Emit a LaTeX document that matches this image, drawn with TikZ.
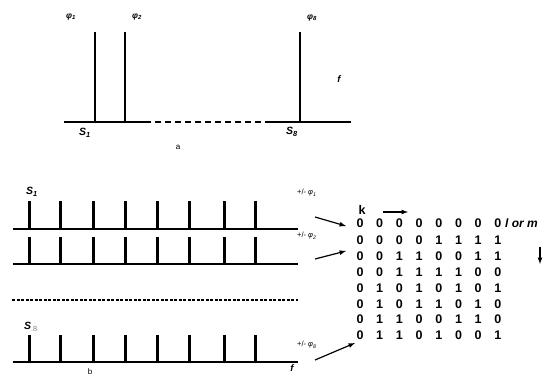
\documentclass[tikz,border=0pt]{standalone}
\usepackage{fontspec}
\setmainfont{Liberation Sans}
\begin{document}
\begin{tikzpicture}[x=1pt,y=-1pt,
  base/.style={line width=1.4pt},
  spikeA/.style={line width=2.6pt},
  spikeB/.style={line width=3pt},
  lab/.style={inner sep=0pt,font=\fontsize{8}{9}\selectfont},
  phl/.style={inner sep=0pt,font=\fontsize{8.5}{9}\selectfont\bfseries\itshape},
  slab/.style={inner sep=0pt,font=\fontsize{10.5}{11}\selectfont\bfseries\itshape},
  fl/.style={inner sep=0pt,font=\fontsize{9.5}{10}\selectfont\bfseries\itshape},
  pml/.style={inner sep=0pt,font=\fontsize{7.5}{8}\selectfont,anchor=west},
  digit/.style={inner sep=0pt,font=\fontsize{12.5}{13}\selectfont\bfseries},
  arr/.style={line width=1.2pt,-latex}]
\useasboundingbox (0,0) rectangle (546,378);
% ---------- part a ----------
\coordinate (a0) at (64,122);
\coordinate (a1) at (145,122);
\coordinate (a2) at (268,122);
\coordinate (a3) at (351,122);
\draw[base] (a0) -- (a1);
\draw[dash pattern=on 6pt off 4pt,line width=2pt] (a1) -- (a2);
\draw[base] (a2) -- (a3);
\foreach \x/\n in {95/p1,125/p2,300/p8}{
  \coordinate (\n b) at (\x,122);
  \coordinate (\n t) at (\x,32);
  \draw[spikeA] (\n b) -- (\n t);
}
\node[phl] (phi1) at (71,17) {φ\textsubscript{1}};
\node[phl] (phi2) at (137,17) {φ\textsubscript{2}};
\node[phl] (phi8) at (312,18) {φ\textsubscript{8}};
\node[fl] (fa) at (339,79) {f};
\node[slab] (sa1) at (85,133) {S\textsubscript{1}};
\node[slab] (sa8) at (292,132) {S\textsubscript{8}};
\node[lab] (la) at (178,147) {a};
% ---------- part b ----------
\foreach \y/\t/\n in {229/201/r1,264/237/r2,362/335/r3}{
  \coordinate (\n L) at (13,\y);
  \coordinate (\n R) at (298,\y);
  \draw[base] (\n L) -- (\n R);
  \foreach \x in {29,60,93,125,157,189,224,255}{
    \coordinate (\n s\x b) at (\x,\y);
    \coordinate (\n s\x t) at (\x,\t);
    \draw[spikeB] (\n s\x b) -- (\n s\x t);
  }
}
\coordinate (dL) at (12,300);
\coordinate (dR) at (298,300);
\draw[line width=2pt,dash pattern=on 3pt off 1.5pt] (dL) -- (dR);
\node[slab] (sb1) at (32,192) {S\textsubscript{1}};
\node[slab,anchor=west] (sb8) at (24,327) {S\textsubscript{\normalfont\color{gray}.8}};
\node[pml] (pm1) at (297,193) {+/- \textit{φ}\textsubscript{\itshape 1}};
\node[pml] (pm2) at (297,236) {+/- \textit{φ}\textsubscript{\itshape 2}};
\node[pml] (pm8) at (297,345) {+/- \textit{φ}\textsubscript{\itshape 8}};
\node[fl] (fb) at (292,368) {f};
\node[lab] (lb) at (90,372) {b};
% ---------- matrix ----------
\node[digit] (k) at (362,210) {k};
\coordinate (kt) at (383,212);
\coordinate (kh) at (408,212);
\draw[arr] (kt) -- (kh);
\foreach \r/\y/\vals in {1/223/{0,0,0,0,0,0,0,0},2/240/{0,0,0,0,1,1,1,1},3/256/{0,0,1,1,0,0,1,1},4/272/{0,0,1,1,1,1,0,0},5/288/{0,1,0,1,0,1,0,1},6/304/{0,1,0,1,1,0,1,0},7/319/{0,1,1,0,0,1,1,0},8/335/{0,1,1,0,1,0,0,1}}{
  \foreach \v [count=\c] in \vals {
    \node[digit] (m-\r-\c) at ({360+(\c-1)*19.7},\y) {\v};
  }
}
\node[inner sep=0pt,font=\fontsize{12}{13}\selectfont\bfseries\itshape,anchor=west] (lm) at (505,223) {l or m};
\coordinate (dt) at (540,247);
\coordinate (dh) at (540,264);
\draw[arr] (dt) -- (dh);
% arrows into matrix
\coordinate (t1) at (315,217);
\coordinate (h1) at (346,226);
\coordinate (t2) at (315,259);
\coordinate (h2) at (346,251);
\coordinate (t3) at (315,360);
\coordinate (h3) at (355,343);
\draw[arr] (t1) -- (h1);
\draw[arr] (t2) -- (h2);
\draw[arr] (t3) -- (h3);
\end{tikzpicture}
\end{document}
